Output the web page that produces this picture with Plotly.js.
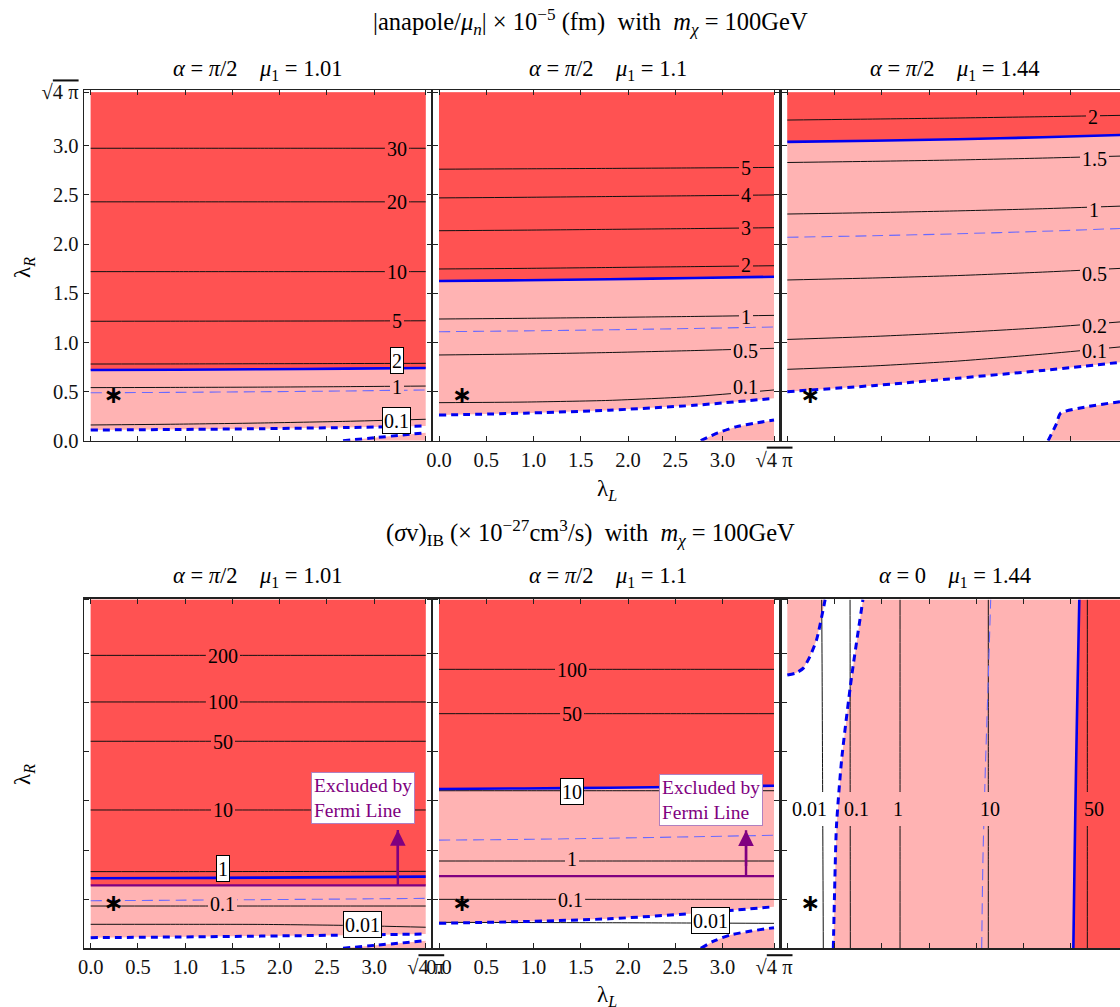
<!DOCTYPE html>
<html><head><meta charset="utf-8">
<script src="https://cdn.plot.ly/plotly-3.0.1.min.js"></script>
<style>body{margin:0;background:#fff}#chart{width:1120px;height:1007px}</style>
</head><body><div id="chart"></div>
<script>
// ---------------- data ----------------
const LAM_L = [0, 0.9, 1.8, 2.7, 3.545];          // lambda_L sample points for horizontal contours
const LAM_R = [0, 0.9, 1.8, 2.7, 3.545];          // lambda_R sample points for vertical contours
const SQ4PI = 3.545;
const TICK_VALS = [0, 0.5, 1, 1.5, 2, 2.5, 3, 3.545];
const TICK_TEXT = ['0.0','0.5','1.0','1.5','2.0','2.5','3.0','√<span style="text-decoration:overline">4 π</span>'];
const STAR_X = [0.24];
const STAR_Y = [0.44];

// Panel A1: anapole, alpha = pi/2, mu1 = 1.01
const A1_c30 = [2.975, 2.975, 2.975, 2.975, 2.975];
const A1_c20 = [2.43, 2.43, 2.43, 2.43, 2.43];
const A1_c10 = [1.72, 1.72, 1.72, 1.72, 1.72];
const A1_c5  = [1.215, 1.216, 1.217, 1.218, 1.22];
const A1_c2  = [0.78, 0.781, 0.783, 0.785, 0.787];
const A1_c1  = [0.54, 0.542, 0.545, 0.55, 0.556];
const A1_c01 = [0.16, 0.168, 0.18, 0.197, 0.218];
const A1_blue = [0.719, 0.722, 0.727, 0.733, 0.74];
const A1_thin = [0.488, 0.492, 0.498, 0.506, 0.516];
const A1_thick = [0.109, 0.114, 0.122, 0.134, 0.15];
const A1_cornerX = [2.67, 3.0, 3.3, 3.545];
const A1_cornerY = [0, 0.03, 0.058, 0.081];
const A1_labText = ['30', '20', '10', '5', '2', '1', '0.1'];
const A1_labX = [3.24, 3.24, 3.24, 3.24, 3.24, 3.24, 3.24];
const A1_labY = [2.975, 2.43, 1.72, 1.218, 0.821, 0.55, 0.203];

// Panel A2: anapole, alpha = pi/2, mu1 = 1.1
const A2_c5  = [2.762, 2.766, 2.77, 2.775, 2.78];
const A2_c4  = [2.47, 2.476, 2.484, 2.492, 2.5];
const A2_c3  = [2.136, 2.142, 2.15, 2.158, 2.167];
const A2_c2  = [1.747, 1.753, 1.762, 1.771, 1.78];
const A2_c1  = [1.238, 1.245, 1.254, 1.264, 1.275];
const A2_c05 = [0.872, 0.882, 0.897, 0.917, 0.94];
const A2_c01 = [0.387, 0.393, 0.41, 0.45, 0.516];
const A2_blue = [1.625, 1.632, 1.642, 1.655, 1.668];
const A2_thin = [1.109, 1.117, 1.128, 1.142, 1.157];
const A2_thick = [0.261, 0.28, 0.31, 0.36, 0.431];
const A2_cornerX = [2.77, 2.95, 3.15, 3.35, 3.545];
const A2_cornerY = [0, 0.08, 0.143, 0.18, 0.21];
const A2_labText = ['5', '4', '3', '2', '1', '0.5', '0.1'];
const A2_labX = [3.25, 3.25, 3.25, 3.25, 3.25, 3.24, 3.24];
const A2_labY = [2.78, 2.5, 2.165, 1.79, 1.268, 0.922, 0.55];

// Panel A3: anapole, alpha = pi/2, mu1 = 1.44
const A3_c2  = [3.262, 3.272, 3.283, 3.296, 3.31];
const A3_c15 = [2.83, 2.842, 2.856, 2.875, 2.896];
const A3_c1  = [2.306, 2.32, 2.338, 2.36, 2.387];
const A3_c05 = [1.635, 1.655, 1.68, 1.715, 1.754];
const A3_c02 = [1.03, 1.06, 1.1, 1.15, 1.21];
const A3_c01 = [0.726, 0.76, 0.81, 0.88, 0.956];
const A3_blue = [3.04, 3.052, 3.067, 3.087, 3.11];
const A3_thin = [2.069, 2.085, 2.105, 2.13, 2.16];
const A3_thick = [0.499, 0.56, 0.635, 0.715, 0.8];
const A3_cornerX = [2.76, 2.85, 2.89, 3.17, 3.52, 3.545];
const A3_cornerY = [0, 0.177, 0.279, 0.346, 0.397, 0.4];
const A3_labText = ['2', '1.5', '1', '0.5', '0.2', '0.1'];
const A3_labX = [3.237, 3.246, 3.246, 3.246, 3.246, 3.246];
const A3_labY = [3.296, 2.873, 2.347, 1.703, 1.167, 0.916];

// Panel B1: (sigma v)_IB, alpha = pi/2, mu1 = 1.01
const B1_c200 = [2.98, 2.98, 2.98, 2.98, 2.98];
const B1_c100 = [2.506, 2.506, 2.506, 2.506, 2.506];
const B1_c50  = [2.106, 2.106, 2.106, 2.106, 2.106];
const B1_c10  = [1.407, 1.407, 1.407, 1.407, 1.407];
const B1_c1   = [0.78, 0.78, 0.781, 0.782, 0.783];
const B1_c01  = [0.43, 0.43, 0.43, 0.43, 0.43];
const B1_c001 = [0.244, 0.244, 0.243, 0.233, 0.214];
const B1_blue = [0.712, 0.715, 0.719, 0.724, 0.729];
const B1_fermi = [0.641, 0.641, 0.641, 0.641, 0.641];
const B1_thin = [0.484, 0.489, 0.495, 0.501, 0.508];
const B1_thick = [0.108, 0.115, 0.124, 0.134, 0.145];
const B1_cornerX = [2.67, 3.0, 3.3, 3.545];
const B1_cornerY = [0, 0.03, 0.055, 0.078];
const B1_labText = ['200', '100', '50', '10', '1', '0.1', '0.01'];
const B1_labX = [1.403, 1.403, 1.403, 1.403, 1.403, 1.39, 2.878];
const B1_labY = [2.98, 2.506, 2.106, 1.407, 0.814, 0.451, 0.244];
const B1_arrowX = [3.25, 3.25];
const B1_arrowY = [0.641, 1.203];
const B1_noteX = 2.88, B1_noteY = 1.526;

// Panel B2: (sigma v)_IB, alpha = pi/2, mu1 = 1.1
const B2_c100 = [2.838, 2.838, 2.838, 2.838, 2.838];
const B2_c50  = [2.387, 2.387, 2.387, 2.387, 2.387];
const B2_c10  = [1.603, 1.603, 1.603, 1.603, 1.603];
const B2_c1   = [0.888, 0.888, 0.888, 0.888, 0.888];
const B2_c01  = [0.498, 0.498, 0.498, 0.498, 0.498];
const B2_c001 = [0.264, 0.262, 0.26, 0.257, 0.254];
const B2_blue = [1.62, 1.626, 1.634, 1.644, 1.654];
const B2_fermi = [0.735, 0.735, 0.735, 0.735, 0.735];
const B2_thin = [1.1, 1.108, 1.12, 1.135, 1.15];
const B2_thick = [0.254, 0.272, 0.3, 0.355, 0.423];
const B2_cornerX = [2.77, 2.9, 3.08, 3.3, 3.545];
const B2_cornerY = [0, 0.07, 0.135, 0.175, 0.21];
const B2_labText = ['100', '50', '10', '1', '0.1', '0.01'];
const B2_labX = [1.404, 1.404, 1.404, 1.404, 1.39, 2.878];
const B2_labY = [2.838, 2.387, 1.6, 0.915, 0.498, 0.278];
const B2_arrowX = [3.249, 3.249];
const B2_arrowY = [0.735, 1.2];
const B2_noteX = 2.878, B2_noteY = 1.509;

// Panel B3: (sigma v)_IB, alpha = 0, mu1 = 1.44  (contours nearly vertical: x as function of lambda_R)
const B3_c001 = [0.381, 0.377, 0.373, 0.369, 0.364];
const B3_c01  = [0.667, 0.666, 0.665, 0.665, 0.664];
const B3_c1   = [1.193, 1.193, 1.193, 1.193, 1.193];
const B3_c10  = [2.127, 2.127, 2.127, 2.127, 2.127];
const B3_c50  = [3.175, 3.175, 3.175, 3.175, 3.175];
const B3_blue = [3.027, 3.04, 3.055, 3.072, 3.09];
const B3_thin = [2.057, 2.07, 2.095, 2.125, 2.152];
const B3_thickX = [0.487, 0.5, 0.52, 0.575, 0.68, 0.8];
const B3_thickY = [0, 0.56, 1.24, 1.92, 2.76, 3.545];
const B3_islandX = [0, 0.09, 0.17, 0.24, 0.31, 0.4];
const B3_islandY = [2.78, 2.8, 2.85, 2.97, 3.14, 3.545];
const B3_labText = ['0.01', '0.1', '1', '10', '50'];
const B3_labX = [0.24, 0.734, 1.174, 2.145, 3.25];
const B3_labY = [1.414, 1.414, 1.414, 1.414, 1.414];

// ---------------- styling / geometry ----------------
const RED = '#ff5252', PINK = '#ffb3b3', BLUE = '#0000f0', THIN = '#6a6aff', PURPLE = '#800080';
const SERIF = 'Liberation Serif, Times New Roman, serif';
const W = 1120, H = 1007;
const XDOM = [[84/W, 432/W], [432.5/W, 778.5/W], [781.5/W, 1]];
const XRNG = [[-0.0709, 3.6116], [-0.0688, 3.5926], [-0.0614, 3.5206]];
const YDOM = [[(H-440.7)/H, (H-90)/H], [(H-948.3)/H, (H-598.5)/H]];
const YRNG = [[0, 3.5677], [0, 3.5585]];

const traces = [];
const annotations = [];
function ax(n){ return {xaxis: 'x'+(n===1?'':n), yaxis: 'y'+(n===1?'':n)}; }
function poly(n, x, y, color){
  traces.push(Object.assign({type:'scatter', mode:'lines', x, y, fill:'toself', fillcolor:color,
    line:{width:0, color:color}, hoverinfo:'skip'}, ax(n)));
}
function line(n, x, y, color, width, dash){
  traces.push(Object.assign({type:'scatter', mode:'lines', x, y,
    line:{color, width, dash: dash || 'solid', shape:'spline', smoothing:0.6}, hoverinfo:'skip'}, ax(n)));
}
function star(n){
  traces.push(Object.assign({type:'scatter', mode:'text', x: STAR_X, y: STAR_Y, text:['<b>∗</b>'],
    textposition:'middle center', textfont:{family:'DejaVu Sans', size:24, color:'#000'}, hoverinfo:'skip'}, ax(n)));
}
function labels(n, texts, xs, ys, bgs, opts){
  texts.forEach((t, i) => {
    const boxed = bgs[i] === 'box';
    annotations.push(Object.assign({xref: ax(n).xaxis, yref: ax(n).yaxis, x: xs[i], y: ys[i], text: t,
      showarrow:false, font:{family:SERIF, size:20, color:'#000'},
      bgcolor: boxed ? '#ffffff' : bgs[i], bordercolor: boxed ? '#000' : 'rgba(0,0,0,0)',
      borderwidth: boxed ? 1 : 0, borderpad: boxed ? 1 : 2, height: boxed ? 23 : 17}, opts || {}));
  });
}
function horizPanel(n, P){
  poly(n, [...LAM_L, SQ4PI, 0], [...P.thick, SQ4PI, SQ4PI], PINK);
  poly(n, [...LAM_L, SQ4PI, 0], [...P.redEdge, SQ4PI, SQ4PI], RED);
  poly(n, [...P.cornerX, SQ4PI], [...P.cornerY, 0], PINK);
  P.contours.forEach(c => line(n, LAM_L, c, '#111', 1));
  line(n, LAM_L, P.thin, THIN, 1.1, '11px,6px');
  line(n, LAM_L, P.blue, BLUE, 2.6);
  if (P.fermi) line(n, LAM_L, P.fermi, PURPLE, 2.2);
  line(n, LAM_L, P.thick, BLUE, 3, '7px,5px');
  line(n, P.cornerX, P.cornerY, BLUE, 3, '7px,5px');
  star(n);
}

horizPanel(1, {thick:A1_thick, redEdge:A1_blue, blue:A1_blue, thin:A1_thin, cornerX:A1_cornerX, cornerY:A1_cornerY,
  contours:[A1_c30, A1_c20, A1_c10, A1_c5, A1_c2, A1_c1, A1_c01]});
labels(1, A1_labText, A1_labX, A1_labY, [RED, RED, RED, RED, 'box', PINK, 'box']);

horizPanel(2, {thick:A2_thick, redEdge:A2_blue, blue:A2_blue, thin:A2_thin, cornerX:A2_cornerX, cornerY:A2_cornerY,
  contours:[A2_c5, A2_c4, A2_c3, A2_c2, A2_c1, A2_c05, A2_c01]});
labels(2, A2_labText, A2_labX, A2_labY, [RED, RED, RED, RED, PINK, PINK, PINK]);

horizPanel(3, {thick:A3_thick, redEdge:A3_blue, blue:A3_blue, thin:A3_thin, cornerX:A3_cornerX, cornerY:A3_cornerY,
  contours:[A3_c2, A3_c15, A3_c1, A3_c05, A3_c02, A3_c01]});
labels(3, A3_labText, A3_labX, A3_labY, [RED, PINK, PINK, PINK, PINK, PINK]);

horizPanel(4, {thick:B1_thick, redEdge:B1_fermi, blue:B1_blue, fermi:B1_fermi, thin:B1_thin, cornerX:B1_cornerX, cornerY:B1_cornerY,
  contours:[B1_c200, B1_c100, B1_c50, B1_c10, B1_c1, B1_c01, B1_c001]});
labels(4, B1_labText, B1_labX, B1_labY, [RED, RED, RED, RED, 'box', PINK, 'box']);

horizPanel(5, {thick:B2_thick, redEdge:B2_blue, blue:B2_blue, fermi:B2_fermi, thin:B2_thin, cornerX:B2_cornerX, cornerY:B2_cornerY,
  contours:[B2_c100, B2_c50, B2_c10, B2_c1, B2_c01, B2_c001]});
labels(5, B2_labText, B2_labX, B2_labY, [RED, RED, 'box', PINK, PINK, 'box']);

// Panel B3
poly(6, [...B3_thickX, SQ4PI, SQ4PI], [...B3_thickY, SQ4PI, 0], PINK);
poly(6, [...B3_blue, SQ4PI, SQ4PI], [...LAM_R, SQ4PI, 0], RED);
poly(6, [...B3_islandX, 0], [...B3_islandY, SQ4PI], PINK);
[B3_c001, B3_c01, B3_c1, B3_c10, B3_c50].forEach(c => line(6, c, LAM_R, '#111', 1));
line(6, B3_thin, LAM_R, THIN, 1.1, '11px,6px');
line(6, B3_blue, LAM_R, BLUE, 2.6);
line(6, B3_thickX, B3_thickY, BLUE, 3, '7px,5px');
line(6, B3_islandX, B3_islandY, BLUE, 3, '7px,5px');
star(6);
labels(6, B3_labText, B3_labX, B3_labY, ['#ffffff', PINK, PINK, PINK, RED], {height: 30});

// Fermi notes and arrows
[[4, B1_arrowX, B1_arrowY, B1_noteX, B1_noteY], [5, B2_arrowX, B2_arrowY, B2_noteX, B2_noteY]].forEach(([n, axs, ays, nx, ny]) => {
  traces.push(Object.assign({type:'scatter', mode:'lines', x: axs, y: ays, line:{color:PURPLE, width:2.4}, hoverinfo:'skip'}, ax(n)));
  annotations.push({xref: ax(n).xaxis, yref: ax(n).yaxis, x: axs[1], y: ays[1], ax: axs[0], ay: ays[0],
    axref: ax(n).xaxis, ayref: ax(n).yaxis, text:' ', showarrow:true, arrowhead:2, arrowsize:1.3, arrowwidth:2.4,
    arrowcolor:PURPLE, standoff:0, startstandoff:0});
  annotations.push({xref: ax(n).xaxis, yref: ax(n).yaxis, x: nx, y: ny, text:'Excluded by<br>Fermi Line', align:'left',
    showarrow:false, font:{family:SERIF, size:19.5, color:PURPLE}, bgcolor:'#fff', bordercolor:'#b080c0', borderwidth:1, borderpad:2});
});

// titles
function paperText(px, py, text, size, extra){
  annotations.push(Object.assign({xref:'paper', yref:'paper', x: px/W, y: 1 - py/H, text, showarrow:false,
    font:{family:SERIF, size, color:'#000'}, xanchor:'center', yanchor:'middle'}, extra || {}));
}
const NB = '\u00a0';
paperText(590, 22, '|anapole/<i>μ<sub>n</sub></i>| × 10<sup>−5</sup> (fm)'+NB+NB+'with'+NB+NB+'<i>m<sub>χ</sub></i> = 100GeV', 24.5);
paperText(590, 533, '(<i>σ</i>v)<sub>IB</sub> (× 10<sup>−27</sup>cm<sup>3</sup>/s)'+NB+NB+'with'+NB+NB+'<i>m<sub>χ</sub></i> = 100GeV', 24.5);
const PT = (a, m) => '<i>α</i> = '+a+NB+NB+NB+NB+'<i>μ</i><sub>1</sub> = '+m;
paperText(258, 70, PT('<i>π</i>/2', '1.01'), 22.5);
paperText(608, 70, PT('<i>π</i>/2', '1.1'), 22.5);
paperText(955, 70, PT('<i>π</i>/2', '1.44'), 22.5);
paperText(258, 577, PT('<i>π</i>/2', '1.01'), 22.5);
paperText(608, 577, PT('<i>π</i>/2', '1.1'), 22.5);
paperText(955, 577, PT('0', '1.44'), 22.5);
paperText(24, 268, 'λ<sub><i>R</i></sub>', 23, {textangle:-90});
paperText(24, 775, 'λ<sub><i>R</i></sub>', 23, {textangle:-90});
paperText(607, 490, 'λ<sub><i>L</i></sub>', 23);
paperText(607, 996, 'λ<sub><i>L</i></sub>', 23);

// axes
const layout = {width:W, height:H, margin:{l:0, r:0, t:0, b:0}, paper_bgcolor:'#fff', plot_bgcolor:'#fff',
  showlegend:false, annotations};
const XLAB = [false, true, false, true, true, false];
for (let n = 1; n <= 6; n++){
  const col = (n - 1) % 3, row = n <= 3 ? 0 : 1;
  const common = {showline:true, linecolor:'#222', linewidth:1.3, ticks:'inside', ticklen:5, tickwidth:1,
    tickcolor:'#222', tickvals:TICK_VALS, ticktext:TICK_TEXT, showgrid:false, zeroline:false, fixedrange:true,
    tickfont:{family:SERIF, size:20.5, color:'#111'}};
  layout['xaxis'+(n===1?'':n)] = Object.assign({}, common, {domain:XDOM[col], range:XRNG[col], mirror:'ticks',
    anchor: 'y'+(n===1?'':n), showticklabels: XLAB[n-1]});
  layout['yaxis'+(n===1?'':n)] = Object.assign({}, common, {domain:YDOM[row], range:YRNG[row],
    mirror: col === 2 ? false : 'ticks', anchor: 'x'+(n===1?'':n), showticklabels: n === 1});
}
Plotly.newPlot('chart', traces, layout, {staticPlot:true});
</script></body></html>
